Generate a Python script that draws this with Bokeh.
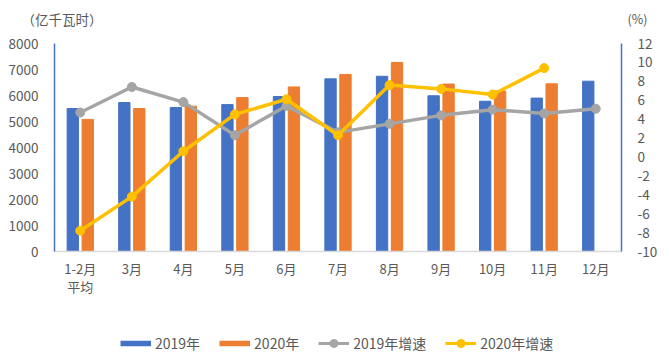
from bokeh.plotting import figure
from bokeh.models import (ColumnDataSource, Range1d, LinearAxis, FixedTicker, Legend, LegendItem, Label,
                          PrintfTickFormatter)
from bokeh.layouts import column
from bokeh.transform import dodge
from bokeh.embed import file_html
from bokeh.resources import INLINE
import numpy as np

months = ["1-2月\n平均", "3月", "4月", "5月", "6月", "7月", "8月", "9月", "10月", "11月", "12月"]
gen_2019 = [5500, 5730, 5540, 5650, 5960, 6640, 6740, 5990, 5780, 5900, 6550]
gen_2020 = [5080, 5500, 5590, 5920, 6330, 6810, 7270, 6440, 6170, 6450, np.nan]
growth_2019 = [4.7, 7.4, 5.8, 2.3, 5.4, 2.6, 3.5, 4.4, 5.0, 4.6, 5.1]
growth_2020 = [-7.8, -4.2, 0.6, 4.5, 6.1, 2.3, 7.6, 7.2, 6.6, 9.4, np.nan]
left_ticks = [0, 1000, 2000, 3000, 4000, 5000, 6000, 7000, 8000]
right_ticks = [-10, -8, -6, -4, -2, 0, 2, 4, 6, 8, 10, 12]
series_names = ["2019年", "2020年", "2019年增速", "2020年增速"]

FONT = "Noto Sans CJK SC"
TXT = "#595959"
BLUE = "#4472C4"
ORANGE = "#ED7D31"
GRAY = "#A5A5A5"
YELLOW = "#FFC000"


def strip(h):
    f = figure(width=669, height=h, x_range=Range1d(0, 669), y_range=Range1d(0, h),
               output_backend="svg", toolbar_location=None, x_axis_location=None,
               y_axis_location=None, min_border=0, frame_width=669, frame_height=h,
               frame_align=False)
    f.outline_line_color = None
    f.xgrid.grid_line_color = None
    f.ygrid.grid_line_color = None
    return f


# ---- top strip with unit captions ----
top = strip(33)
top.add_layout(Label(x=21, y=15, text="（亿千瓦时）", text_font=FONT, text_font_size="13.5px",
                     text_color=TXT, text_baseline="middle"))
top.add_layout(Label(x=627, y=15, text="(%)", text_font=FONT, text_font_size="12.5px",
                     text_color=TXT, text_baseline="middle"))

# ---- main chart ----
src = ColumnDataSource(dict(m=months, a=gen_2019, b=gen_2020, g19=growth_2019, g20=growth_2020))

p = figure(x_range=months, y_range=Range1d(0, 8000), width=669, height=288,
           frame_width=567, frame_height=208, output_backend="svg", toolbar_location=None,
           min_border_left=54, min_border_right=48, min_border_top=10, min_border_bottom=70,
           frame_align=False)
p.extra_y_ranges = {"pct": Range1d(-10, 12)}
p.outline_line_color = None
p.xgrid.grid_line_color = None
p.ygrid.grid_line_color = None

p.vbar(x=dodge("m", -0.145, range=p.x_range), top="a", width=0.22, source=src, color=BLUE)
p.vbar(x=dodge("m", 0.145, range=p.x_range), top="b", width=0.22, source=src, color=ORANGE)
p.line("m", "g19", source=src, y_range_name="pct", line_color=GRAY, line_width=3.5)
p.scatter("m", "g19", source=src, y_range_name="pct", size=9, color=GRAY)
p.line("m", "g20", source=src, y_range_name="pct", line_color=YELLOW, line_width=3.5)
p.scatter("m", "g20", source=src, y_range_name="pct", size=9, color=YELLOW)

ya = p.yaxis[0]
ya.ticker = FixedTicker(ticks=left_ticks)
ya.axis_line_color = BLUE
ya.axis_line_width = 1.5
ya.major_tick_line_color = None
ya.minor_tick_line_color = None
ya.major_label_text_color = TXT
ya.major_label_text_font = FONT
ya.major_label_text_font_size = "13.5px"
ya.major_label_standoff = 10

ra = LinearAxis(y_range_name="pct", ticker=FixedTicker(ticks=right_ticks),
                formatter=PrintfTickFormatter(format="%d"))
ra.axis_line_color = BLUE
ra.axis_line_width = 1.5
ra.major_tick_line_color = None
ra.minor_tick_line_color = None
ra.major_label_text_color = TXT
ra.major_label_text_font = FONT
ra.major_label_text_font_size = "13.5px"
ra.major_label_standoff = 10
p.add_layout(ra, "right")

xa = p.xaxis[0]
xa.axis_line_color = "#D9D9D9"
xa.axis_line_width = 1.5
xa.major_tick_line_color = None
xa.minor_tick_line_color = None
xa.major_label_text_color = TXT
xa.major_label_text_font = FONT
xa.major_label_text_font_size = "13px"
xa.major_label_text_line_height = 0.95
xa.major_label_standoff = 1

# ---- bottom strip with the legend (hidden copies of the series supply the keys) ----
bot = strip(33)
idx = list(range(len(months)))
k1 = bot.line(x=idx, y=gen_2019, line_color=BLUE, line_width=5.5, visible=False)
k2 = bot.line(x=idx, y=gen_2020, line_color=ORANGE, line_width=5.5, visible=False)
k3l = bot.line(x=idx, y=growth_2019, line_color=GRAY, line_width=3, visible=False)
k3s = bot.scatter(x=idx, y=growth_2019, size=8, color=GRAY, visible=False)
k4l = bot.line(x=idx, y=growth_2020, line_color=YELLOW, line_width=3, visible=False)
k4s = bot.scatter(x=idx, y=growth_2020, size=8, color=YELLOW, visible=False)

legend = Legend(items=[
    LegendItem(label=series_names[0], renderers=[k1]),
    LegendItem(label=series_names[1], renderers=[k2]),
    LegendItem(label=series_names[2], renderers=[k3l, k3s]),
    LegendItem(label=series_names[3], renderers=[k4l, k4s]),
], orientation="horizontal", location=(120, 1), glyph_width=31, glyph_height=20,
    label_standoff=4, spacing=19, label_text_font=FONT, label_text_font_size="14px",
    label_text_color=TXT, border_line_color=None, background_fill_alpha=0, padding=4, margin=0,
    inactive_fill_alpha=0)
bot.add_layout(legend, "center")

open("out.html", "w").write(file_html(column(top, p, bot, spacing=0), INLINE))
